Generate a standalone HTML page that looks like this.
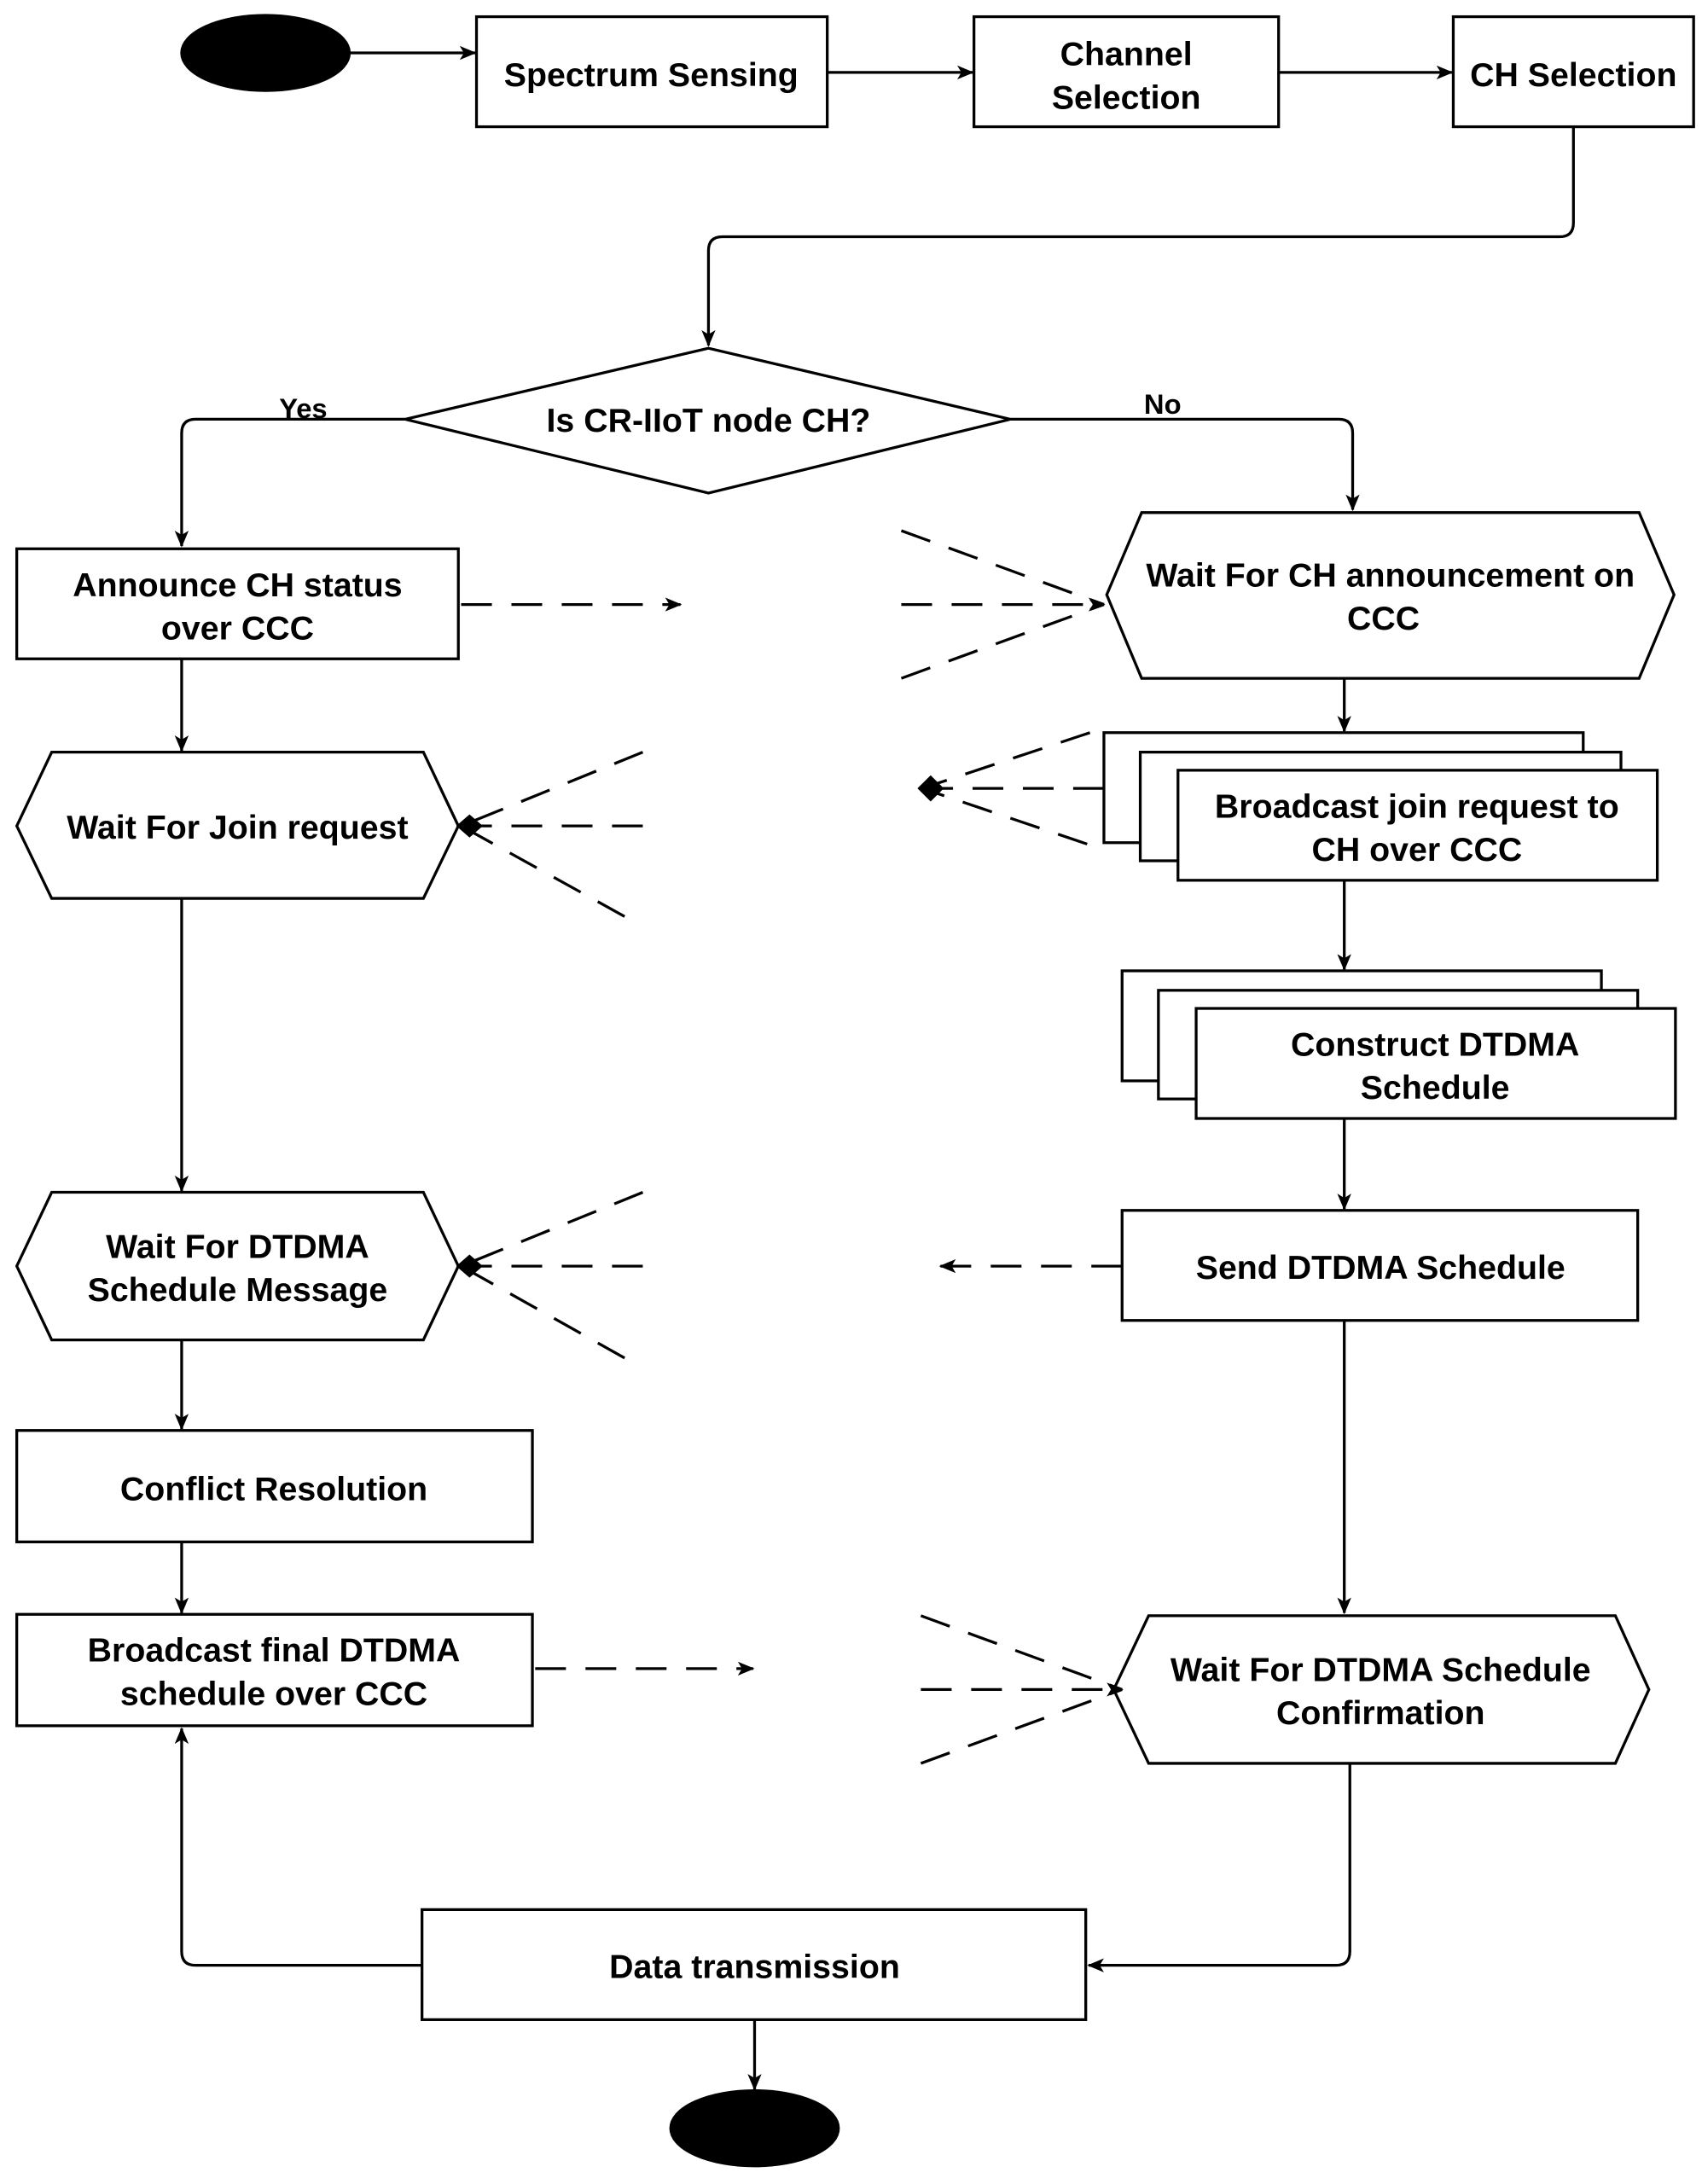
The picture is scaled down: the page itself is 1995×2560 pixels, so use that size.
<!DOCTYPE html>
<html><head><meta charset="utf-8"><style>
html,body{margin:0;padding:0;background:#fff}
svg{display:block}
text{font-family:"Liberation Sans",sans-serif;font-weight:bold;font-size:24px;fill:#000;text-anchor:middle}
.c{font-family:"Comic Sans MS","Liberation Sans",sans-serif}
</style></head><body>
<svg width="1995" height="2560" viewBox="0 0 1218 1568" preserveAspectRatio="none" xmlns="http://www.w3.org/2000/svg">
<defs>
<marker id="a" markerWidth="12" markerHeight="10" refX="11" refY="5" orient="auto" markerUnits="userSpaceOnUse"><path d="M0,0 L12,5 L0,10 L3,5 z" fill="#000"/></marker>
<marker id="d" markerWidth="16" markerHeight="12" refX="1" refY="6" orient="auto" markerUnits="userSpaceOnUse"><path d="M0,6 L8,0 L16,6 L8,12 z" fill="#000"/></marker>
</defs>
<g stroke="#000" stroke-width="2" fill="none">
<ellipse cx="190" cy="38" rx="60" ry="27" fill="#000"/>
<line x1="250" y1="38" x2="340" y2="38" marker-end="url(#a)"/>
<rect x="341" y="12" width="251" height="79"/>
<line x1="592" y1="52" x2="696" y2="52" marker-end="url(#a)"/>
<rect x="697" y="12" width="218" height="79"/>
<line x1="915" y1="52" x2="1039" y2="52" marker-end="url(#a)"/>
<rect x="1040" y="12" width="172" height="79"/>
<path d="M1126,91 V160 Q1126,170 1116,170 H517 Q507,170 507,180 V248" marker-end="url(#a)"/>
<polygon points="507,250 723,301 507,354 290,301"/>
<path d="M290,301 H140 Q130,301 130,311 V392" marker-end="url(#a)"/>
<path d="M723,301 H958 Q968,301 968,311 V366" marker-end="url(#a)"/>
<rect x="12" y="394" width="316" height="79"/>
<line x1="330" y1="434" x2="487" y2="434" stroke-dasharray="22,14" marker-end="url(#a)"/>
<line x1="645" y1="381" x2="790" y2="434" stroke-dasharray="22,14"/>
<line x1="645" y1="434" x2="790" y2="434" stroke-dasharray="22,14" marker-end="url(#a)"/>
<line x1="645" y1="487" x2="790" y2="434" stroke-dasharray="22,14"/>
<polygon points="792,427 817,368 1173,368 1198,427 1173,487 817,487"/>
<line x1="130" y1="473" x2="130" y2="539" marker-end="url(#a)"/>
<polygon points="12,593 37,540 303,540 328,593 303,645 37,645"/>
<line x1="460" y1="540" x2="330" y2="593" stroke-dasharray="22,14"/>
<line x1="460" y1="593" x2="330" y2="593" stroke-dasharray="22,14"/>
<line x1="447" y1="658" x2="330" y2="593" stroke-dasharray="22,14"/>
<path d="M328,593 L336,586 L344,593 L336,600 z" fill="#000"/>
<line x1="962" y1="487" x2="962" y2="525" marker-end="url(#a)"/>
<rect x="790" y="526" width="343" height="79" fill="#fff"/>
<rect x="816" y="540" width="344" height="78" fill="#fff"/>
<rect x="843" y="553" width="343" height="79" fill="#fff"/>
<line x1="780" y1="526" x2="660" y2="566" stroke-dasharray="22,14"/>
<line x1="790" y1="566" x2="660" y2="566" stroke-dasharray="22,14"/>
<line x1="778" y1="606" x2="660" y2="566" stroke-dasharray="22,14"/>
<path d="M658,566 L666,558 L674,566 L666,574 z" fill="#000"/>
<line x1="962" y1="632" x2="962" y2="696" marker-end="url(#a)"/>
<rect x="803" y="697" width="343" height="79" fill="#fff"/>
<rect x="829" y="711" width="343" height="78" fill="#fff"/>
<rect x="856" y="724" width="343" height="79" fill="#fff"/>
<line x1="962" y1="803" x2="962" y2="868" marker-end="url(#a)"/>
<rect x="803" y="869" width="369" height="79"/>
<line x1="803" y1="909" x2="673" y2="909" stroke-dasharray="22,14" marker-end="url(#a)"/>
<line x1="130" y1="645" x2="130" y2="855" marker-end="url(#a)"/>
<polygon points="12,909 37,856 303,856 328,909 303,962 37,962"/>
<line x1="460" y1="856" x2="330" y2="909" stroke-dasharray="22,14"/>
<line x1="460" y1="909" x2="330" y2="909" stroke-dasharray="22,14"/>
<line x1="447" y1="975" x2="330" y2="909" stroke-dasharray="22,14"/>
<path d="M328,909 L336,902 L344,909 L336,916 z" fill="#000"/>
<line x1="130" y1="962" x2="130" y2="1026" marker-end="url(#a)"/>
<rect x="12" y="1027" width="369" height="80"/>
<line x1="130" y1="1107" x2="130" y2="1158" marker-end="url(#a)"/>
<rect x="12" y="1159" width="369" height="80"/>
<line x1="383" y1="1198" x2="539" y2="1198" stroke-dasharray="22,14" marker-end="url(#a)"/>
<line x1="659" y1="1160" x2="803" y2="1213" stroke-dasharray="22,14"/>
<line x1="659" y1="1213" x2="803" y2="1213" stroke-dasharray="22,14" marker-end="url(#a)"/>
<line x1="659" y1="1266" x2="803" y2="1213" stroke-dasharray="22,14"/>
<line x1="962" y1="948" x2="962" y2="1158" marker-end="url(#a)"/>
<polygon points="797,1213 822,1160 1156,1160 1180,1213 1156,1266 822,1266"/>
<path d="M966,1266 V1401 Q966,1411 956,1411 H779" marker-end="url(#a)"/>
<rect x="302" y="1371" width="475" height="79"/>
<path d="M302,1411 H140 Q130,1411 130,1401 V1241" marker-end="url(#a)"/>
<line x1="540" y1="1450" x2="540" y2="1500" marker-end="url(#a)"/>
<ellipse cx="540" cy="1528" rx="60" ry="27" fill="#000"/>
</g>
<text class="c" x="466" y="62">Spectrum Sensing</text>
<text class="c" x="806" y="47">Channel</text>
<text class="c" x="806" y="78">Selection</text>
<text class="c" x="1126" y="62">CH Selection</text>
<text x="507" y="310">Is CR-IIoT node CH?</text>
<text x="217" y="300" style="font-size:20px">Yes</text>
<text x="832" y="297" style="font-size:20px">No</text>
<text x="170" y="428">Announce CH status</text>
<text x="170" y="459">over CCC</text>
<text x="995" y="421">Wait For CH announcement on</text>
<text x="990" y="452">CCC</text>
<text x="170" y="602">Wait For Join request</text>
<text x="1014" y="587">Broadcast join request to</text>
<text x="1014" y="618">CH over CCC</text>
<text x="1027" y="758">Construct DTDMA</text>
<text x="1027" y="789">Schedule</text>
<text x="988" y="918">Send DTDMA Schedule</text>
<text x="170" y="903">Wait For DTDMA</text>
<text x="170" y="934">Schedule Message</text>
<text x="196" y="1077">Conflict Resolution</text>
<text x="196" y="1193">Broadcast final DTDMA</text>
<text x="196" y="1224">schedule over CCC</text>
<text x="988" y="1207">Wait For DTDMA Schedule</text>
<text x="988" y="1238">Confirmation</text>
<text x="540" y="1420">Data transmission</text>
</svg>
</body></html>
